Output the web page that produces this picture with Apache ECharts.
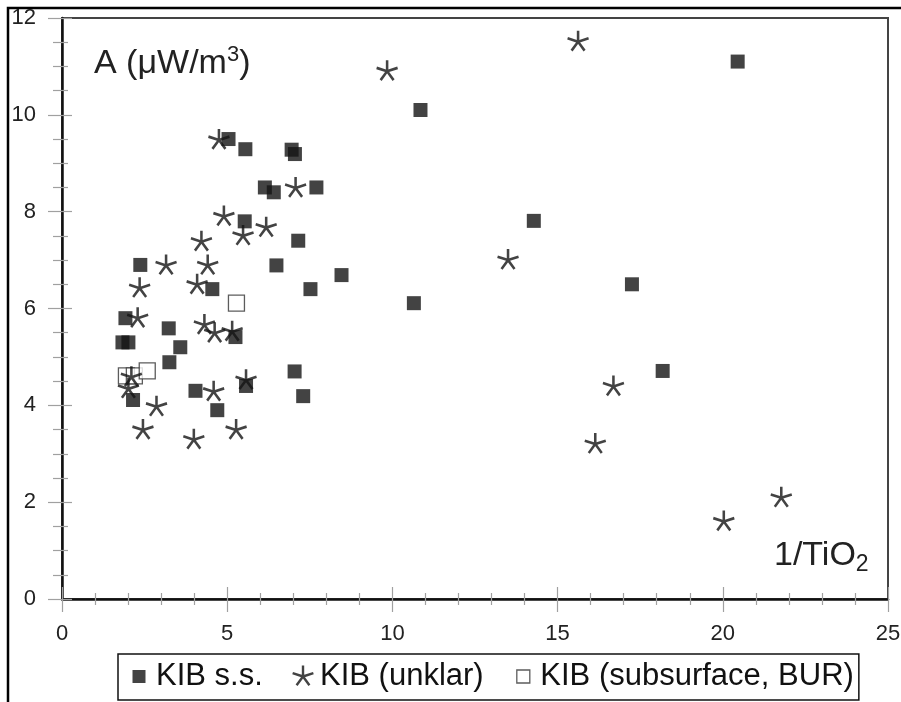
<!DOCTYPE html>
<html>
<head>
<meta charset="utf-8">
<title>A vs 1/TiO2</title>
<script src="https://cdn.jsdelivr.net/npm/echarts@6/dist/echarts.min.js"></script>
<style>
  html, body { margin: 0; padding: 0; background: #fff; }
  #chart { width: 901px; height: 702px; }
</style>
</head>
<body>
<div id="chart"></div>
<script>
// Series names (legend order)
const seriesNames = ['KIB s.s.', 'KIB (unklar)', 'KIB (subsurface, BUR)'];

// KIB s.s. — 1/TiO2 and A (µW/m³)
const ssX = [20.45, 10.85, 5.04, 5.55, 6.95, 7.05, 6.14, 6.41, 7.70, 5.53, 14.28, 7.15, 2.37, 6.49, 8.46, 17.25, 4.55, 7.52, 10.65, 1.92, 3.23, 5.25, 1.83, 2.01, 3.58, 3.25, 2.15, 4.04, 4.70, 5.57, 7.04, 7.30, 18.18];
const ssY = [11.10, 10.10, 9.50, 9.29, 9.28, 9.19, 8.50, 8.40, 8.50, 7.80, 7.81, 7.40, 6.90, 6.89, 6.69, 6.50, 6.40, 6.40, 6.11, 5.80, 5.59, 5.41, 5.30, 5.30, 5.20, 4.89, 4.11, 4.30, 3.90, 4.40, 4.70, 4.19, 4.71];

// KIB (unklar)
const unklarX = [15.62, 9.84, 4.75, 7.07, 4.90, 6.18, 5.48, 4.22, 3.15, 4.41, 2.35, 4.09, 13.50, 2.29, 4.31, 4.62, 5.15, 2.10, 2.01, 2.86, 2.45, 3.99, 5.27, 4.59, 5.57, 16.69, 16.14, 20.03, 21.77];
const unklarY = [11.51, 10.90, 9.48, 8.49, 7.90, 7.67, 7.50, 7.38, 6.89, 6.89, 6.42, 6.49, 7.00, 5.80, 5.66, 5.49, 5.52, 4.58, 4.34, 3.97, 3.49, 3.29, 3.49, 4.28, 4.52, 4.39, 3.20, 1.60, 2.09];

// KIB (subsurface, BUR)
const burX = [5.28, 1.95, 2.19, 2.58];
const burY = [6.11, 4.61, 4.61, 4.71];

// Axis settings
const xTicks = { min: 0, max: 25, interval: 5 };
const yTicks = { min: 0, max: 12, interval: 2 };

const pairs = (xs, ys) => xs.map((x, i) => [x, ys[i]]);

const FONT = '"Liberation Sans", Arial, sans-serif';
const INK = '#141414';

// five-armed asterisk marker
const STAR = 'path://M0 -10L0 0M9.51 -3.09L0 0M5.88 8.09L0 0M-5.88 8.09L0 0M-9.51 -3.09L0 0M0 10';
// legend icons padded inside a 24x24 box
const LEG_SQ = 'path://M0 0M24 24M5.5 5.5L18.5 5.5L18.5 18.5L5.5 18.5Z';
const LEG_STAR = 'path://M-11 -11M11 11M0 -10L0 0M9.51 -3.09L0 0M5.88 8.09L0 0M-5.88 8.09L0 0M-9.51 -3.09L0 0';

const gridBox = { left: 62, right: 13, top: 18, bottom: 103 };
const tickStyle = { color: '#a0a0a0', width: 1.2 };

const chart = echarts.init(document.getElementById('chart'), null, { renderer: 'canvas' });

chart.setOption({
  animation: false,
  backgroundColor: '#fff',
  grid: [
    Object.assign({ show: true, borderColor: '#444', borderWidth: 2, backgroundColor: 'transparent', containLabel: false, outerBoundsMode: 'none' }, gridBox),
    Object.assign({ show: false, containLabel: false, outerBoundsMode: 'none' }, gridBox)
  ],
  xAxis: [
    {
      type: 'value', gridIndex: 0, min: xTicks.min, max: xTicks.max, interval: xTicks.interval,
      axisLine: { show: true, onZero: false, lineStyle: { color: '#111', width: 2.5 } },
      axisTick: { show: true, inside: false, length: 13, lineStyle: tickStyle },
      minorTick: { show: true, splitNumber: 5, length: 6, lineStyle: tickStyle },
      splitLine: { show: false },
      axisLabel: { margin: 24, fontSize: 22, fontFamily: FONT, color: '#222' }
    },
    {
      type: 'value', gridIndex: 1, min: xTicks.min, max: xTicks.max, interval: xTicks.interval,
      axisLine: { show: false },
      axisTick: { show: true, inside: true, length: 12, lineStyle: tickStyle },
      minorTick: { show: true, splitNumber: 5, length: 6, lineStyle: tickStyle },
      splitLine: { show: false },
      axisLabel: { show: false }
    }
  ],
  yAxis: [
    {
      type: 'value', gridIndex: 0, min: yTicks.min, max: yTicks.max, interval: yTicks.interval,
      axisLine: { show: true, onZero: false, lineStyle: { color: '#111', width: 2.5 } },
      axisTick: { show: true, inside: false, length: 14, lineStyle: tickStyle },
      minorTick: { show: true, splitNumber: 4, length: 9, lineStyle: tickStyle },
      splitLine: { show: false },
      axisLabel: { margin: 26, fontSize: 22, fontFamily: FONT, color: '#222' }
    },
    {
      type: 'value', gridIndex: 1, min: yTicks.min, max: yTicks.max, interval: yTicks.interval,
      axisLine: { show: false },
      axisTick: { show: true, inside: true, length: 10, lineStyle: tickStyle },
      minorTick: { show: true, splitNumber: 4, length: 6, lineStyle: tickStyle },
      splitLine: { show: false },
      axisLabel: { show: false }
    }
  ],
  legend: {
    left: 118, top: 654,
    orient: 'horizontal',
    selectedMode: false,
    itemWidth: 24, itemHeight: 24, itemGap: 27,
    padding: [7, 5, 8, 9],
    borderColor: '#111', borderWidth: 1.5,
    textStyle: { fontSize: 31, fontFamily: FONT, color: '#111' },
    data: [
      { name: seriesNames[0], icon: LEG_SQ, itemStyle: { color: INK, borderWidth: 0 } },
      { name: seriesNames[1], icon: LEG_STAR, itemStyle: { color: 'rgba(0,0,0,0)', borderColor: INK, borderWidth: 2.4 } },
      { name: seriesNames[2], icon: LEG_SQ, itemStyle: { color: '#fff', borderColor: '#333', borderWidth: 1.3 } }
    ]
  },
  graphic: [
    { type: 'rect', silent: true, z: 100, shape: { x: 8, y: 8, width: 1000, height: 1000 }, style: { fill: 'none', stroke: '#000', lineWidth: 2.5 } },
    {
      type: 'text', silent: true, z: 100, x: 94, y: 44,
      style: {
        text: '{m|A (μW/m}{s|3}{m|)}',
        rich: {
          m: { fontSize: 34, lineHeight: 40, fontFamily: FONT, fill: '#222' },
          s: { fontSize: 22, lineHeight: 30, verticalAlign: 'top', fontFamily: FONT, fill: '#222' }
        }
      }
    },
    {
      type: 'text', silent: true, z: 100, x: 774, y: 536,
      style: {
        text: '{m|1/TiO}{s|2}',
        rich: {
          m: { fontSize: 34, lineHeight: 40, fontFamily: FONT, fill: '#222' },
          s: { fontSize: 23, lineHeight: 26, verticalAlign: 'bottom', fontFamily: FONT, fill: '#222' }
        }
      }
    }
  ],
  series: [
    {
      name: seriesNames[2], type: 'scatter', xAxisIndex: 0, yAxisIndex: 0,
      symbol: 'rect', symbolSize: 16, silent: true, z: 3,
      itemStyle: { color: '#fff', borderColor: '#333', borderWidth: 1.3 },
      data: pairs(burX, burY)
    },
    {
      name: seriesNames[0], type: 'scatter', xAxisIndex: 0, yAxisIndex: 0,
      symbol: 'rect', symbolSize: 14, silent: true, z: 4,
      itemStyle: { color: INK },
      data: pairs(ssX, ssY)
    },
    {
      name: seriesNames[1], type: 'scatter', xAxisIndex: 0, yAxisIndex: 0,
      symbol: STAR, symbolSize: [21, 22], silent: true, z: 5,
      itemStyle: { color: 'rgba(0,0,0,0)', borderColor: INK, borderWidth: 2.6 },
      data: pairs(unklarX, unklarY)
    }
  ]
});
</script>
</body>
</html>
